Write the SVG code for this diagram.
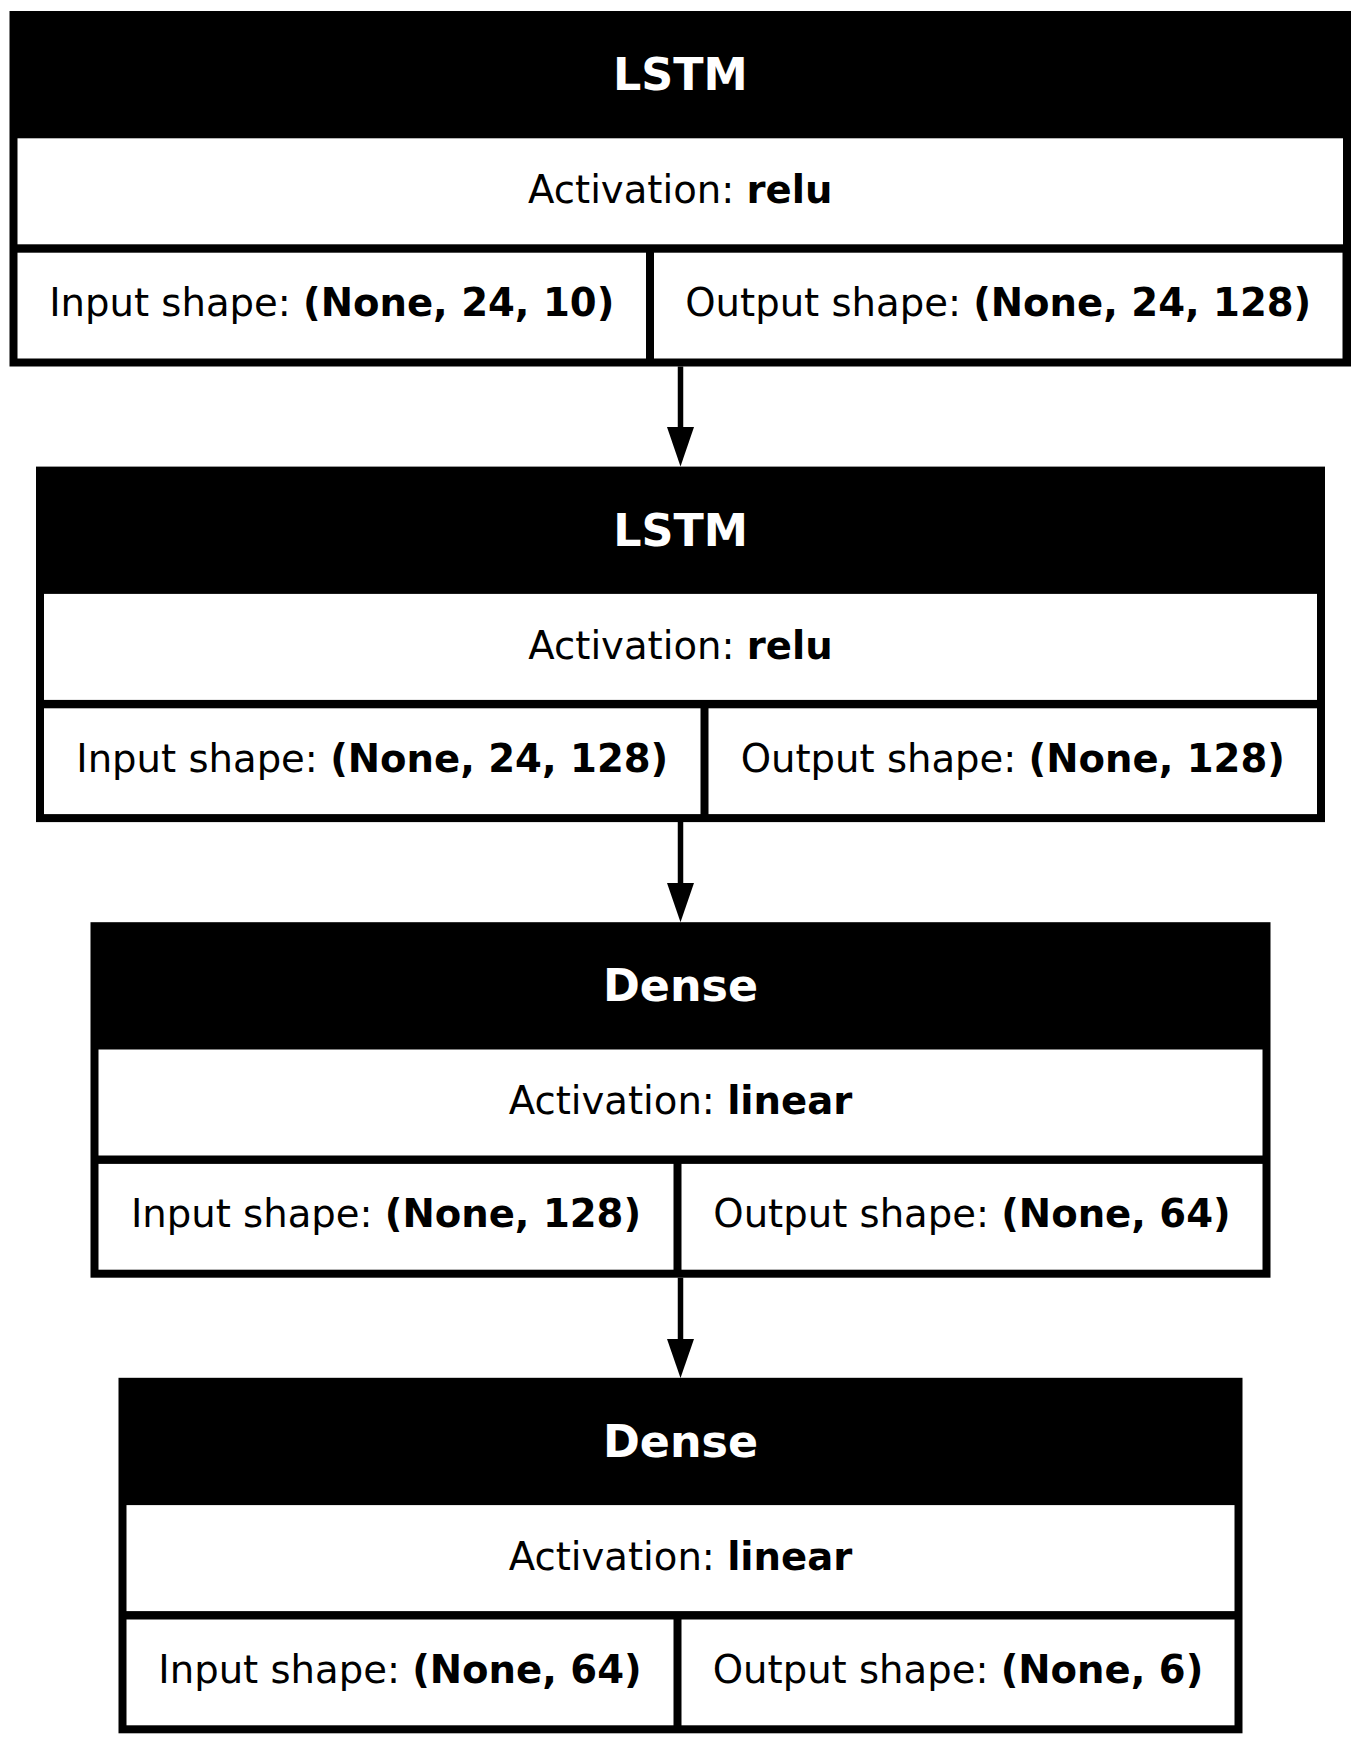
<svg xmlns="http://www.w3.org/2000/svg" width="1361" height="1744" viewBox="0 0 1361 1744">
<style>
.bg{fill:#ffffff}
.frame{fill:#000000}
.cell{fill:#ffffff}
.title{font-family:"DejaVu Sans","Liberation Sans",sans-serif;font-size:44.4px;font-weight:bold;fill:#ffffff;text-anchor:middle}
.lbl{font-family:"DejaVu Sans","Liberation Sans",sans-serif;font-size:38.6px;fill:#000000;text-anchor:middle}
.b{font-weight:bold}
.edge{stroke:#000000;stroke-width:5.5;fill:none}
.head{fill:#000000;stroke:none}
</style>
<rect class="bg" x="0" y="0" width="1361" height="1744"/>
<g id="connectors">
  <line class="edge" x1="680.5" y1="366.5" x2="680.5" y2="428"/>
  <polygon class="head" points="667,427 694,427 680.5,466.5"/>
  <line class="edge" x1="680.5" y1="822" x2="680.5" y2="884"/>
  <polygon class="head" points="667,883 694,883 680.5,922.3"/>
  <line class="edge" x1="680.5" y1="1277.7" x2="680.5" y2="1340"/>
  <polygon class="head" points="667,1339 694,1339 680.5,1378"/>
</g>
<g id="node1">
  <rect class="frame" x="9.5" y="11" width="1341.5" height="355.5"/>
  <rect class="cell" x="17.5" y="138.3" width="1325.5" height="106"/>
  <rect class="cell" x="17.5" y="252.7" width="628.5" height="105.8"/>
  <rect class="cell" x="654" y="252.7" width="688.5" height="105.8"/>
  <text class="title" x="680.25" y="90">LSTM</text>
  <text class="lbl" x="680.25" y="203">Activation: <tspan class="b">relu</tspan></text>
  <text class="lbl" x="331.75" y="316">Input shape: <tspan class="b">(None, 24, 10)</tspan></text>
  <text class="lbl" x="998.25" y="316">Output shape: <tspan class="b">(None, 24, 128)</tspan></text>
</g>
<g id="node2">
  <rect class="frame" x="36" y="466.6" width="1289" height="355.5"/>
  <rect class="cell" x="44" y="593.9" width="1273" height="106"/>
  <rect class="cell" x="44" y="708.3" width="656.5" height="105.8"/>
  <rect class="cell" x="708.5" y="708.3" width="608.5" height="105.8"/>
  <text class="title" x="680.5" y="545.6">LSTM</text>
  <text class="lbl" x="680.5" y="658.6">Activation: <tspan class="b">relu</tspan></text>
  <text class="lbl" x="372.25" y="771.6">Input shape: <tspan class="b">(None, 24, 128)</tspan></text>
  <text class="lbl" x="1012.75" y="771.6">Output shape: <tspan class="b">(None, 128)</tspan></text>
</g>
<g id="node3">
  <rect class="frame" x="90.5" y="922.2" width="1180" height="355.5"/>
  <rect class="cell" x="98.5" y="1049.5" width="1164" height="106"/>
  <rect class="cell" x="98.5" y="1163.9" width="575" height="105.8"/>
  <rect class="cell" x="681.5" y="1163.9" width="581" height="105.8"/>
  <text class="title" x="680.5" y="1001.2">Dense</text>
  <text class="lbl" x="680.5" y="1114.2">Activation: <tspan class="b">linear</tspan></text>
  <text class="lbl" x="386" y="1227.2">Input shape: <tspan class="b">(None, 128)</tspan></text>
  <text class="lbl" x="972" y="1227.2">Output shape: <tspan class="b">(None, 64)</tspan></text>
</g>
<g id="node4">
  <rect class="frame" x="118.5" y="1377.8" width="1124" height="355.5"/>
  <rect class="cell" x="126.5" y="1505.1" width="1108" height="106"/>
  <rect class="cell" x="126.5" y="1619.5" width="547" height="105.8"/>
  <rect class="cell" x="681.5" y="1619.5" width="553" height="105.8"/>
  <text class="title" x="680.5" y="1456.8">Dense</text>
  <text class="lbl" x="680.5" y="1569.8">Activation: <tspan class="b">linear</tspan></text>
  <text class="lbl" x="400" y="1682.8">Input shape: <tspan class="b">(None, 64)</tspan></text>
  <text class="lbl" x="958" y="1682.8">Output shape: <tspan class="b">(None, 6)</tspan></text>
</g>
</svg>
